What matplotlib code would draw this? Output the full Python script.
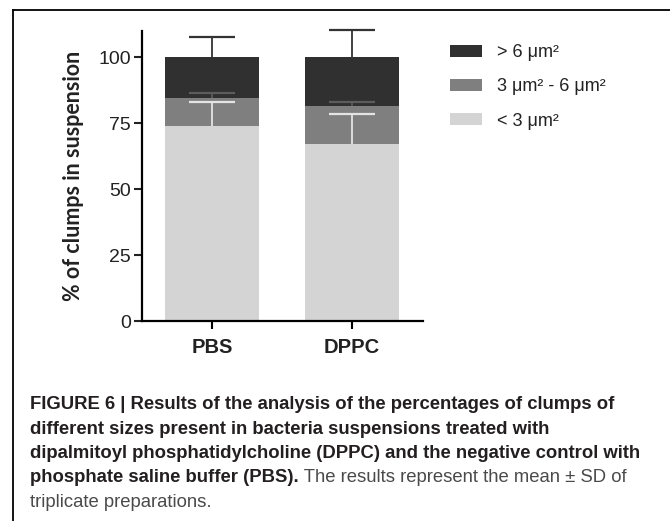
import numpy as np
import matplotlib
matplotlib.use("Agg")
from matplotlib import pyplot as plt
from matplotlib.lines import Line2D
from matplotlib.patches import Patch

plt.rcParams['font.family'] = ['Liberation Sans', 'DejaVu Sans']

groups = ["PBS", "DPPC"]
labels = ["< 3 μm²", "3 μm² - 6 μm²", "> 6 μm²"]
small = [73.8, 67.2]        # < 3 um2
medium = [10.9, 14.4]       # 3 - 6 um2
large = [15.3, 18.4]        # > 6 um2
small_sd = [9.4, 11.5]
medium_sd = [1.7, 1.5]
large_sd = [7.9, 10.2]
yticks = [0, 25, 50, 75, 100]

colors = ["#d4d4d4", "#7f7f7f", "#303030"]
err_colors = ["#e4e4e4", "#5c5c5c", "#333333"]

W, H = 670, 521
fig = plt.figure(figsize=(W / 100, H / 100), dpi=100)

# axes position in pixels
x0, x1, y0, y1 = 142, 423, 321, 31
ax = fig.add_axes([x0 / W, 1 - y0 / H, (x1 - x0) / W, (y0 - y1) / H])

x = np.arange(len(groups))
bar_w = 0.665
cap_w = 0.33
bottoms = np.zeros(len(groups))
series = [small, medium, large]
sds = [small_sd, medium_sd, large_sd]
for vals, sd, col, ecol in zip(series, sds, colors, err_colors):
    vals = np.array(vals)
    ax.bar(x, vals, bottom=bottoms, width=bar_w, color=col, edgecolor='none', zorder=2)
    tops = bottoms + vals
    # upper error bar only (GraphPad style)
    ax.vlines(x, tops, tops + np.array(sd), color=ecol, lw=1.3, zorder=3, clip_on=False)
    ax.hlines(tops + np.array(sd), x - cap_w / 2, x + cap_w / 2, color=ecol, lw=1.6,
              zorder=3, clip_on=False)
    bottoms = tops

ax.set_xlim(-0.5, 1.507)
ax.set_ylim(0, 110)
ax.set_yticks(yticks)
ax.set_xticks(x)
ax.set_xticklabels(groups, fontsize=14.5, fontweight='bold', color='#222222')
ax.tick_params(axis='y', labelsize=14, colors='#222222', length=6, width=1.5, pad=2)
ax.tick_params(axis='x', length=6, width=1.5, pad=6)
for s in ['top', 'right']:
    ax.spines[s].set_visible(False)
for s in ['left', 'bottom']:
    ax.spines[s].set_linewidth(1.6)
ax.set_ylabel("% of clumps in suspension", fontsize=15.5, fontweight='bold',
              family=['Lato', 'DejaVu Sans'], color='#222222')
ax.yaxis.set_label_coords(-0.205, 0.5)

handles = [Patch(facecolor=c, edgecolor='none') for c in colors]
leg = fig.legend(handles[::-1], labels[::-1], loc='upper left',
                 bbox_to_anchor=(434 / W, 1 - 28 / H), frameon=False,
                 fontsize=13, handlelength=1.75, handleheight=0.6,
                 handletextpad=0.85, labelspacing=0.95)
for t in leg.get_texts():
    t.set_color('#222222')

# frame lines of the figure panel
fig.add_artist(Line2D([13 / W, 13 / W], [0, 1 - 10 / H], color='black', lw=1.3,
                      transform=fig.transFigure))
fig.add_artist(Line2D([13 / W, 1], [1 - 10 / H, 1 - 10 / H], color='black', lw=1.3,
                      transform=fig.transFigure))

# caption
cap_x = 30 / W
cap_fs = 13.3
bold_lines = ["FIGURE 6 | Results of the analysis of the percentages of clumps of",
              "different sizes present in bacteria suspensions treated with",
              "dipalmitoyl phosphatidylcholine (DPPC) and the negative control with"]
base = [409, 433.5, 458]
for line, b in zip(bold_lines, base):
    fig.text(cap_x, 1 - b / H, line, fontsize=cap_fs, fontweight='bold',
             color='#231f20', va='baseline', ha='left')
tb = fig.text(cap_x, 1 - 482.5 / H, "phosphate saline buffer (PBS).", fontsize=cap_fs,
              fontweight='bold', color='#231f20', va='baseline', ha='left')
plt.annotate(" The results represent the mean ± SD of", xy=(1, 0), xycoords=tb,
             fontsize=cap_fs, color='#4a4a4a', va='bottom', ha='left')
fig.text(cap_x, 1 - 507 / H, "triplicate preparations.", fontsize=cap_fs,
         color='#4a4a4a', va='baseline', ha='left')

fig.savefig("out.png", dpi=100)
